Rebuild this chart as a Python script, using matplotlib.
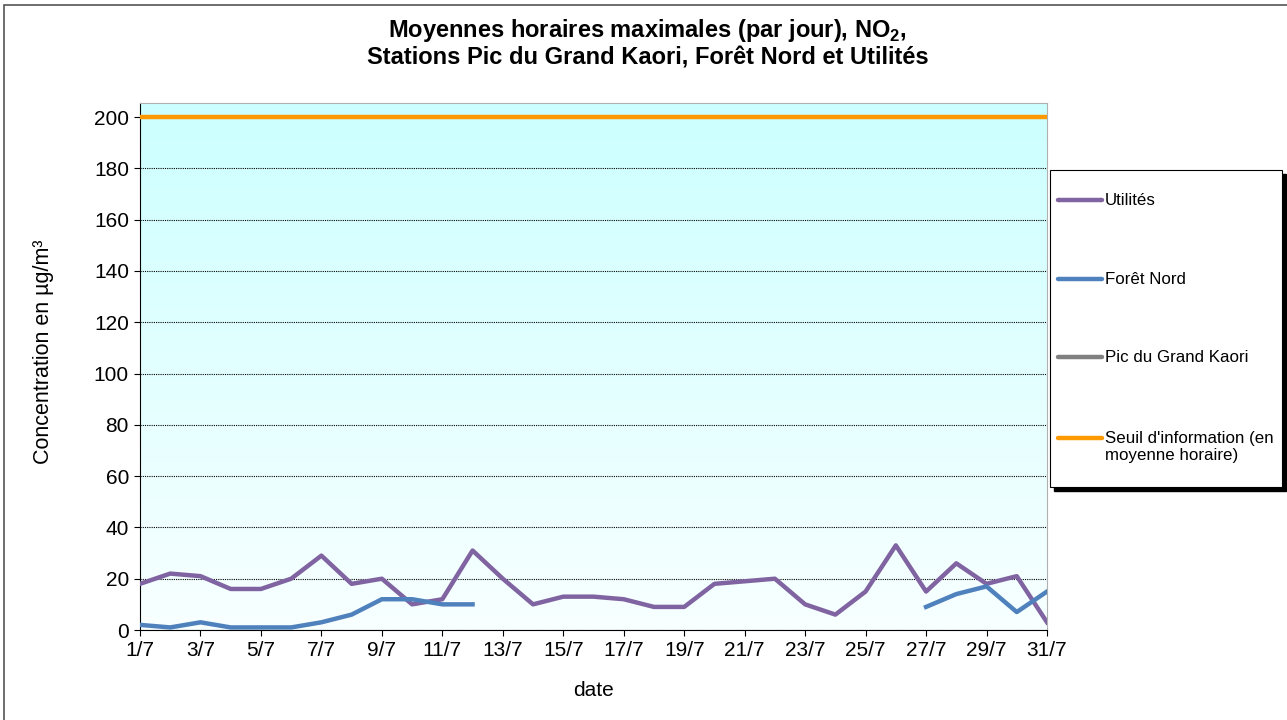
import numpy as np
import matplotlib
matplotlib.use('Agg')
import matplotlib.pyplot as plt
from matplotlib.patches import Rectangle
from matplotlib.lines import Line2D

plt.rcParams['font.family'] = ['Liberation Sans', 'DejaVu Sans']
plt.rcParams['mathtext.fontset'] = 'custom'
plt.rcParams['mathtext.rm'] = 'Liberation Sans'
plt.rcParams['mathtext.bf'] = 'Liberation Sans:bold'

# donnees (jours de juillet)
jours = np.arange(1, 32)
utilites = [18, 22, 21, 16, 16, 20, 29, 18, 20, 10, 12, 31, 20, 10, 13, 13,
            12, 9, 9, 18, 19, 20, 10, 6, 15, 33, 15, 26, 18, 21, 3]
foret_nord = [2, 1, 3, 1, 1, 1, 3, 6, 12, 12, 10, 10] + [None] * 14 + [9, 14, 17, 7, 15]
pic_kaori = [None] * 31
seuil = [200] * 31
xticks = list(range(1, 32, 2))
xlabels = ['%d/7' % d for d in xticks]

def arr(v):
    return np.array([np.nan if x is None else x for x in v], dtype=float)

W, H = 1287, 720
fig = plt.figure(figsize=(W / 100, H / 100), dpi=100)
ax = fig.add_axes([140 / W, 1 - 630 / H, 907 / W, 527 / H])

# fond en degrade
grad = np.linspace(0, 1, 256).reshape(-1, 1)
cmap = matplotlib.colors.LinearSegmentedColormap.from_list('bg', ['#f8ffff', '#ccffff'])
ax.imshow(grad, cmap=cmap, aspect='auto', origin='lower',
          extent=[1, 31, 0, 205.5], zorder=0)

l1, = ax.plot(jours, arr(utilites), color='#8064a2', lw=3.2, zorder=4)
l2, = ax.plot(jours, arr(foret_nord), color='#4f81bd', lw=3.2, zorder=4)
l3, = ax.plot(jours, arr(pic_kaori), color='#808080', lw=3.2, zorder=4)
l4, = ax.plot(jours, arr(seuil), color='#ff9900', lw=3.2, zorder=3)

ax.set_xlim(1, 31)
ax.set_ylim(0, 205.5)
ax.set_yticks(range(0, 201, 20))
ax.set_xticks(xticks)
ax.set_xticklabels(xlabels)
ax.tick_params(labelsize=15, length=4, width=0.8, direction='out', pad=4)
ax.yaxis.grid(True, color='black', linestyle=(0, (1, 1)), lw=0.8, zorder=1)
ax.set_axisbelow(False)
for s in ['top', 'right']:
    ax.spines[s].set_color('#b0b0b0')
for s in ['left', 'bottom']:
    ax.spines[s].set_color('black')

ax.set_ylabel('Concentration en µg/m³', fontsize=15.5)
ax.yaxis.set_label_coords((54 - 140) / 907, (630 - 352) / 527)
ax.set_xlabel('date', fontsize=15, labelpad=15)

fig.text(0.503, 1 - 30 / H, 'Moyennes horaires maximales (par jour), NO$_\\mathbf{2}$,',
         ha='center', va='center', fontsize=17, fontweight='bold')
fig.text(0.503, 1 - 58 / H, 'Stations Pic du Grand Kaori, Forêt Nord et Utilités',
         ha='center', va='center', fontsize=17, fontweight='bold')

# legende (cadre avec ombre)
def px(x, y):
    return x / W, 1 - y / H

bx0, by0 = px(1050, 487)
bw, bh = 232 / W, 317 / H
fig.patches.append(Rectangle((bx0 + 4 / W, by0 - 4 / H), bw, bh, transform=fig.transFigure,
                             facecolor='black', edgecolor='black', zorder=5))
fig.patches.append(Rectangle((bx0, by0), bw, bh, transform=fig.transFigure,
                             facecolor='white', edgecolor='black', lw=0.8, zorder=6))
entries = [(l1, 'Utilités', 200), (l2, 'Forêt Nord', 279), (l3, 'Pic du Grand Kaori', 357),
           (l4, "Seuil d'information (en\nmoyenne horaire)", 438)]
for line, lab, yy in entries:
    xa, ya = px(1058, yy)
    xb, _ = px(1102, yy)
    fig.lines.append(Line2D([xa, xb], [ya, ya], transform=fig.transFigure,
                            color=line.get_color(), lw=3.2, solid_capstyle='round', zorder=7))
    xt, yt = px(1105, yy - 7)
    fig.text(xt, yt, lab, ha='left', va='top', fontsize=12.2, linespacing=1.15, zorder=8)

fig.patches.append(Rectangle((0.003, -0.05), 1.2, 1.043, transform=fig.transFigure,
                             fill=False, edgecolor='#555555', lw=1.2))

fig.savefig('out.png', dpi=100)
